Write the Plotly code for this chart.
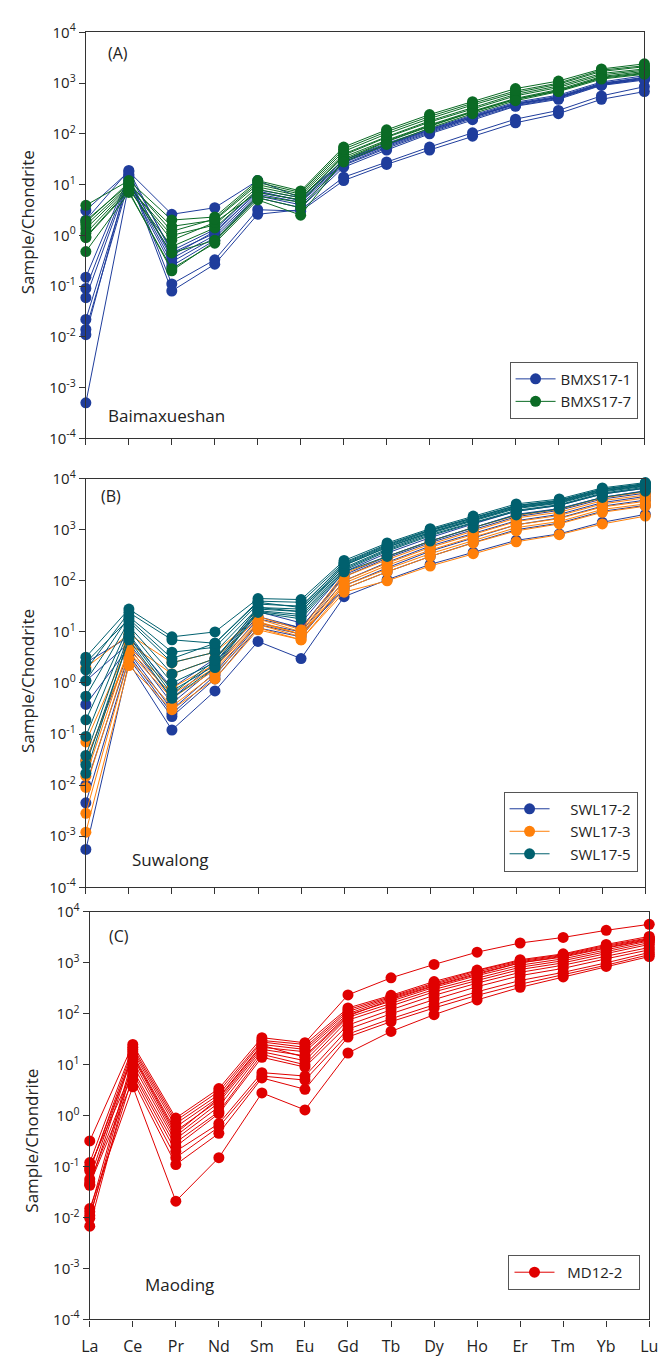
import plotly.graph_objects as go

ree = ["La", "Ce", "Pr", "Nd", "Sm", "Eu", "Gd", "Tb", "Dy", "Ho", "Er", "Tm", "Yb", "Lu"]

# Panel A - Baimaxueshan
bmxs17_1 = [
    [3.1, 18, 2.6, 3.5, 12, 5.5, 30, 62, 120, 220, 380, 520, 950, 1200],
    [0.15, 15, 0.11, 0.33, 3.2, 3.0, 12, 25, 48, 90, 165, 250, 480, 680],
    [0.09, 14, 0.08, 0.27, 2.6, 3.2, 14, 28, 55, 105, 195, 290, 560, 850],
    [0.059, 13, 0.35, 1.0, 6.5, 4.5, 25, 55, 110, 210, 380, 520, 950, 1250],
    [0.022, 12, 0.4, 1.2, 7.0, 5.0, 28, 60, 120, 225, 400, 550, 1000, 1300],
    [0.014, 11, 0.3, 0.9, 6.0, 4.0, 24, 52, 105, 200, 360, 500, 920, 1200],
    [0.011, 16, 0.5, 1.3, 8.0, 5.5, 30, 65, 125, 235, 420, 580, 1050, 1400],
    [0.0005, 10, 0.25, 0.8, 5.5, 3.5, 22, 48, 100, 190, 350, 480, 900, 1150],
    [2.0, 19, 0.45, 1.1, 7.5, 4.8, 27, 58, 115, 215, 390, 530, 980, 1280],
]
bmxs17_7 = [
    [3.9, 12, 2.0, 2.3, 12, 7.5, 55, 120, 240, 430, 780, 1100, 1900, 2400],
    [1.95, 10, 1.5, 2.0, 10, 6.5, 45, 100, 200, 370, 650, 950, 1700, 2100],
    [1.35, 9, 1.0, 1.6, 9, 6, 40, 88, 180, 330, 600, 880, 1550, 1900],
    [0.93, 8, 0.6, 1.4, 8, 5.5, 35, 75, 150, 280, 500, 750, 1350, 1700],
    [0.48, 7, 0.22, 0.7, 5, 2.5, 30, 70, 140, 270, 480, 700, 1300, 1600],
    [1.6, 9.5, 0.8, 1.8, 7, 5, 38, 85, 170, 310, 560, 820, 1450, 1800],
    [1.1, 8.5, 0.45, 0.8, 6, 4.5, 32, 72, 145, 270, 480, 720, 1250, 1550],
    [1.8, 11, 1.2, 2.1, 11, 7, 50, 110, 220, 400, 700, 1000, 1800, 2200],
    [0.9, 7.5, 0.2, 0.75, 5.5, 3.5, 28, 62, 130, 250, 450, 680, 1200, 1500],
]

# Panel B - Suwalong
swl17_2 = [
    [2.5, 8, 0.8, 3, 25, 15, 150, 350, 700, 1300, 2300, 3000, 5000, 6500],
    [1.1, 6, 0.5, 2.5, 20, 12, 130, 300, 600, 1100, 2000, 2600, 4300, 5800],
    [0.38, 5, 0.4, 2, 18, 12, 120, 280, 560, 1000, 1800, 2400, 4000, 5200],
    [0.03, 4, 0.3, 1.6, 15, 10, 100, 230, 480, 850, 1500, 2000, 3400, 4500],
    [0.0045, 3, 0.22, 1.2, 12, 8, 80, 180, 380, 700, 1250, 1700, 2900, 3800],
    [0.00055, 2.5, 0.12, 0.7, 6.5, 3, 49, 105, 210, 360, 620, 830, 1400, 2000],
    [0.01, 3.5, 0.25, 1.4, 14, 9, 70, 150, 300, 560, 1000, 1350, 2300, 3000],
]
swl17_3 = [
    [2.0, 9, 2.5, 4, 20, 11, 140, 300, 600, 1100, 1900, 2500, 4200, 5500],
    [0.07, 6, 1.5, 3, 18, 10, 120, 260, 520, 950, 1700, 2200, 3700, 4800],
    [0.015, 5, 0.8, 2.3, 16, 9, 100, 220, 450, 820, 1450, 1900, 3200, 4200],
    [0.009, 4, 0.5, 1.8, 14, 8, 90, 200, 400, 720, 1250, 1650, 2800, 3600],
    [0.0028, 3, 0.35, 1.5, 12, 7, 70, 150, 300, 550, 950, 1300, 2200, 2900],
    [0.0012, 2.2, 0.3, 1.2, 11, 7, 60, 100, 195, 340, 580, 800, 1300, 1850],
    [0.03, 4.5, 0.6, 2, 15, 9, 80, 170, 340, 620, 1100, 1450, 2500, 3200],
]
swl17_5 = [
    [3.2, 28, 8, 10, 45, 43, 250, 550, 1050, 1850, 3200, 4000, 6600, 8400],
    [1.8, 24, 7, 6, 40, 38, 230, 520, 1000, 1750, 3000, 3800, 6300, 8000],
    [1.1, 20, 4, 5, 35, 32, 210, 480, 950, 1650, 2850, 3600, 6000, 7700],
    [0.55, 16, 2.5, 4, 30, 28, 200, 460, 900, 1600, 2750, 3500, 5800, 7500],
    [0.19, 13, 1.5, 3, 28, 25, 180, 420, 850, 1500, 2600, 3300, 5500, 7100],
    [0.09, 11, 1.0, 2.5, 26, 22, 170, 400, 800, 1400, 2400, 3100, 5200, 6800],
    [0.038, 9, 0.7, 2.2, 25, 20, 160, 380, 760, 1350, 2300, 3000, 5000, 6500],
    [0.025, 7, 0.5, 2, 24, 18, 150, 300, 600, 1100, 1950, 2550, 4300, 5700],
    [0.017, 8, 0.6, 2.8, 30, 25, 200, 450, 880, 1550, 2700, 3400, 5700, 7300],
    [2.5, 18, 3, 6, 38, 30, 220, 500, 980, 1700, 2950, 3700, 6200, 7900],
]

# Panel C - Maoding
md12_2 = [
    [0.32, 25, 0.9, 3.4, 34, 27, 235, 507, 930, 1620, 2450, 3150, 4350, 5700],
    [0.12, 22, 0.8, 3.0, 30, 25, 130, 230, 430, 720, 1150, 1500, 2300, 3300],
    [0.083, 20, 0.7, 2.6, 28, 22, 120, 220, 400, 700, 1100, 1450, 2200, 3100],
    [0.057, 18, 0.6, 2.3, 25, 20, 110, 210, 380, 660, 1050, 1400, 2100, 3000],
    [0.043, 16, 0.5, 2.0, 22, 18, 100, 200, 360, 620, 1000, 1350, 2000, 2900],
    [0.013, 14, 0.4, 1.8, 20, 15, 95, 180, 330, 560, 900, 1200, 1800, 2700],
    [0.0097, 12, 0.35, 1.5, 18, 12, 85, 160, 300, 500, 820, 1100, 1650, 2500],
    [0.0068, 10, 0.3, 1.2, 16, 10, 75, 140, 270, 450, 740, 1000, 1500, 2300],
    [0.1, 8, 0.25, 1.1, 14, 9, 60, 120, 230, 400, 650, 900, 1350, 2000],
    [0.05, 7, 0.2, 0.7, 7, 6, 50, 100, 190, 340, 560, 780, 1200, 1800],
    [0.011, 6, 0.15, 0.6, 6, 5, 40, 80, 150, 270, 450, 650, 1000, 1600],
    [0.045, 5, 0.11, 0.45, 5.5, 3.3, 35, 70, 130, 230, 380, 580, 900, 1450],
    [0.015, 3.7, 0.021, 0.15, 2.8, 1.3, 17, 45, 96, 187, 330, 530, 850, 1330],
    [0.09, 15, 0.45, 2.2, 24, 14, 90, 190, 350, 600, 1000, 1300, 1950, 2800],
]

y_tickvals = [1e-4, 1e-3, 1e-2, 1e-1, 1, 10, 100, 1000, 10000]
y_ticktext = ["10<sup>-4</sup>", "10<sup>-3</sup>", "10<sup>-2</sup>", "10<sup>-1</sup>",
              "10<sup>0</sup>", "10<sup>1</sup>", "10<sup>2</sup>", "10<sup>3</sup>", "10<sup>4</sup>"]

W, H = 667, 1360
FONT = "Open Sans"
NB = "\u00a0"

groups = [
    # (samples, legend label, color, axis index, legend id)
    (bmxs17_1, "BMXS17-1", "#1f3d9c", 1, "legend"),
    (bmxs17_7, "BMXS17-7", "#0b6b25", 1, "legend"),
    (swl17_2, NB * 4 + "SWL17-2", "#1f3d9c", 2, "legend2"),
    (swl17_3, NB * 4 + "SWL17-3", "#ff800a", 2, "legend2"),
    (swl17_5, NB * 4 + "SWL17-5", "#00606e", 2, "legend2"),
    (md12_2, NB * 2 + "MD12-2" + NB * 3, "#e00000", 3, "legend3"),
]

fig = go.Figure()
for samples, name, color, ax, leg in groups:
    for i, s in enumerate(samples):
        fig.add_trace(go.Scatter(
            x=list(range(len(ree))), y=s, mode="lines+markers",
            name=name, legendgroup=name, showlegend=(i == 0), legend=leg,
            line=dict(color=color, width=1),
            marker=dict(color=color, size=11),
            xaxis="x" if ax == 1 else f"x{ax}",
            yaxis="y" if ax == 1 else f"y{ax}",
            cliponaxis=False,
        ))

# panel geometry in pixels: (left, right, top, bottom)
panels = [(79, 653, 20.7, 433), (79, 654, 474, 889), (83, 658, 914, 1328)]

layout = dict(
    width=W, height=H, margin=dict(l=0, r=0, t=0, b=0),
    paper_bgcolor="white", plot_bgcolor="white",
    font=dict(family=FONT, size=14, color="#222"),
)
for k, (l, r, t, b) in enumerate(panels, start=1):
    sx = "" if k == 1 else str(k)
    layout[f"xaxis{sx}"] = dict(
        domain=[l / W, r / W], range=[0, 13], anchor=f"y{sx}",
        tickmode="array", tickvals=list(range(len(ree))), ticktext=ree,
        showticklabels=(k == 3), ticks="outside", ticklen=6, tickwidth=1, tickcolor="#333",
        ticklabelstandoff=6, ticklabeloverflow="allow",
        showline=True, linecolor="#333", linewidth=1.3, mirror=True,
        showgrid=False, zeroline=False, tickfont=dict(size=16, family=FONT),
    )
    layout[f"yaxis{sx}"] = dict(
        domain=[1 - b / H, 1 - t / H], type="log", range=[-4, 4], anchor=f"x{sx}",
        tickmode="array", tickvals=y_tickvals, ticktext=y_ticktext,
        ticks="outside", ticklen=6, tickwidth=1, tickcolor="#333",
        showline=True, linecolor="#333", linewidth=1.3, mirror=True,
        showgrid=False, zeroline=False, tickfont=dict(size=15, family=FONT),
    )

ann = []
titles = [("(A)", 100, 42, "Baimaxueshan", 100, 410, 213, 19),
          ("(B)", 92, 492, "Suwalong", 124, 861, 679, 19),
          ("(C)", 101, 938, "Maoding", 138, 1292, 1146, 23)]
for lab, lx, ly, name, nx, ny, ty, tx in titles:
    ann.append(dict(text=lab, x=lx / W, y=1 - ly / H, xref="paper", yref="paper",
                    xanchor="left", yanchor="middle", showarrow=False, font=dict(size=16)))
    ann.append(dict(text=name, x=nx / W, y=1 - ny / H, xref="paper", yref="paper",
                    xanchor="left", yanchor="middle", showarrow=False, font=dict(size=17)))
    ann.append(dict(text="Sample/Chondrite", x=tx / W, y=1 - ty / H, xref="paper", yref="paper",
                    xanchor="center", yanchor="middle", textangle=-90, showarrow=False,
                    font=dict(size=17)))
layout["annotations"] = ann

legbase = dict(bgcolor="white", bordercolor="#555", borderwidth=1, font=dict(size=15, family=FONT),
               xanchor="right", yanchor="bottom", tracegroupgap=0, itemwidth=40)
layout["legend"] = dict(legbase, x=646 / W, y=1 - 413 / H)
layout["legend2"] = dict(legbase, x=646 / W, y=1 - 873 / H)
layout["legend3"] = dict(legbase, x=649 / W, y=1 - 1298 / H)

fig.update_layout(**layout)
fig.write_html("out.html")
